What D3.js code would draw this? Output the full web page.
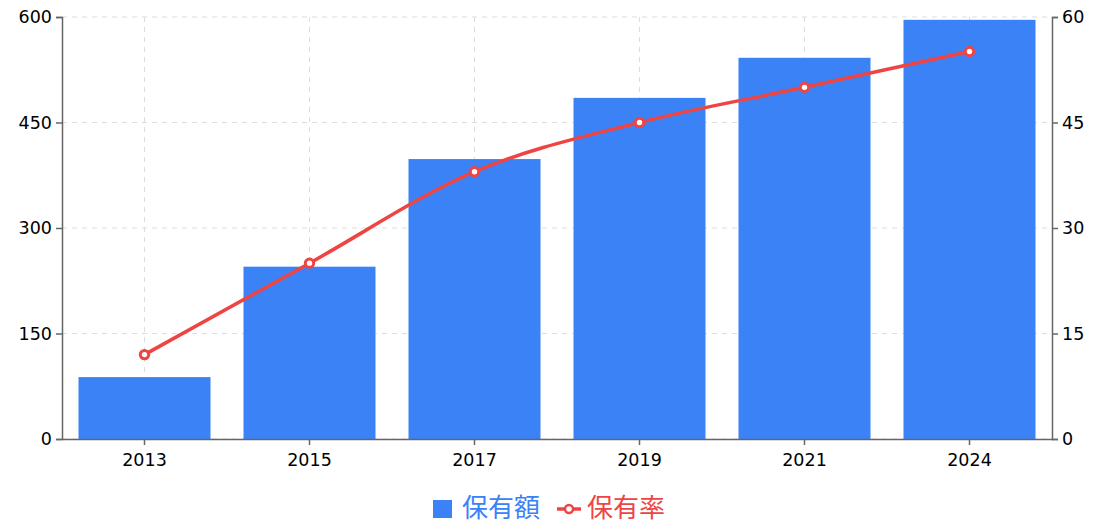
<!DOCTYPE html>
<html><head><meta charset="utf-8">
<script src="https://cdn.jsdelivr.net/npm/d3@7"></script>
<style>body{margin:0;background:#fff}svg{display:block}</style>
</head><body><svg id="c" width="1115" height="528"></svg>
<script>
const years = ["2013","2015","2017","2019","2021","2024"];
const amounts = [88, 245, 398, 485, 542, 596];
const rates = [12, 25, 38, 45, 50, 55.1];
const leftTicks = [0,150,300,450,600];
const rightTicks = [0,15,30,45,60];
const seriesNames = ["保有額","保有率"];

const W=1115,H=528, m={l:62,r:63,t:17,b:89};
const svg=d3.select("#c");
const font='"Noto Sans CJK JP", sans-serif';
const numFont='"DejaVu Sans", sans-serif';
const x=d3.scaleBand().domain(years).range([m.l,W-m.r]).paddingInner(0.2).paddingOuter(0.1);
const yL=d3.scaleLinear().domain([0,600]).range([H-m.b,m.t]);
const yR=d3.scaleLinear().domain([0,60]).range([H-m.b,m.t]);
const blue="#3b82f6", red="#ef4444";

// grid
const g=svg.append("g");
g.selectAll("line.h").data(leftTicks).join("line")
 .attr("x1",m.l).attr("x2",W-m.r).attr("y1",d=>yL(d)).attr("y2",d=>yL(d))
 .attr("stroke","#ddd").attr("stroke-dasharray","5,5");
g.selectAll("line.v").data(years).join("line")
 .attr("x1",d=>x(d)+x.bandwidth()/2).attr("x2",d=>x(d)+x.bandwidth()/2).attr("y1",m.t).attr("y2",H-m.b)
 .attr("stroke","#ddd").attr("stroke-dasharray","5,5");

// bars
svg.append("g").selectAll("rect").data(years).join("rect")
 .attr("x",d=>x(d)).attr("width",x.bandwidth())
 .attr("y",(d,i)=>yL(amounts[i])).attr("height",(d,i)=>yL(0)-yL(amounts[i]))
 .attr("fill",blue);

// line
const pts=years.map((d,i)=>[x(d)+x.bandwidth()/2,yR(rates[i])]);
svg.append("path").attr("d",d3.line().curve(d3.curveMonotoneX)(pts))
 .attr("fill","none").attr("stroke",red).attr("stroke-width",3.5);
svg.append("g").selectAll("circle").data(pts).join("circle")
 .attr("cx",d=>d[0]).attr("cy",d=>d[1]).attr("r",4.2)
 .attr("fill","#fff").attr("stroke",red).attr("stroke-width",3);

// axes
function style(sel){
  sel.selectAll("path,line").attr("stroke","#666").attr("stroke-width",1.5);
  sel.selectAll("text").attr("font-family",numFont).attr("font-size",17.5).attr("fill","#000");
}
svg.append("g").attr("transform",`translate(${m.l},0)`).call(d3.axisLeft(yL).tickValues(leftTicks).tickSize(6).tickPadding(4)).call(style);
svg.append("g").attr("transform",`translate(${W-m.r},0)`).call(d3.axisRight(yR).tickValues(rightTicks).tickSize(6).tickPadding(4)).call(style);
svg.append("g").attr("transform",`translate(0,${H-m.b})`).call(d3.axisBottom(x).tickSize(6).tickSizeOuter(0).tickPadding(9)).call(style);

// legend
const lg=svg.append("g");
lg.append("rect").attr("x",433).attr("y",500).attr("width",19).attr("height",18).attr("fill",blue);
lg.append("text").attr("x",462).attr("y",517).text(seriesNames[0]).attr("fill",blue)
 .attr("font-family",font).attr("font-size",26);
lg.append("line").attr("x1",557).attr("x2",581).attr("y1",509).attr("y2",509).attr("stroke",red).attr("stroke-width",3.5);
lg.append("circle").attr("cx",569).attr("cy",509).attr("r",4).attr("fill","#fff").attr("stroke",red).attr("stroke-width",2.5);
lg.append("text").attr("x",587).attr("y",517).text(seriesNames[1]).attr("fill",red)
 .attr("font-family",font).attr("font-size",26);
</script></body></html>
